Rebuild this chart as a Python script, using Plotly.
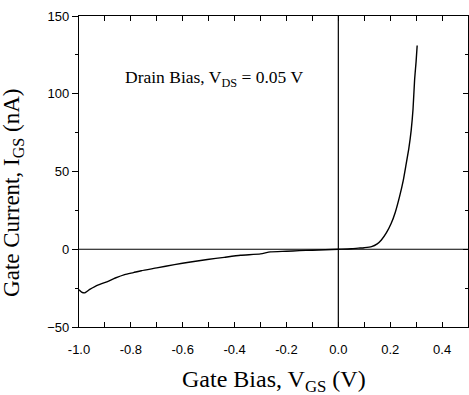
"""
Gate current vs gate bias at a fixed drain bias.
"""

import plotly.graph_objects as go

# gate bias (V) and gate current (nA)
v_gs = [-1.0, -0.99, -0.977, -0.96, -0.939, -0.91, -0.888, -0.86, -0.824,
        -0.79, -0.76, -0.7, -0.632, -0.57, -0.505, -0.44, -0.377, -0.3,
        -0.262, -0.2, -0.15, -0.1, -0.05, 0.0, 0.05, 0.077, 0.1, 0.128,
        0.15, 0.166, 0.185, 0.204, 0.22, 0.236, 0.25, 0.262, 0.272, 0.281,
        0.288, 0.294, 0.3, 0.304]
i_gs = [-26, -27.5, -28, -26, -24, -22, -20.6, -18.5, -16.3,
        -15, -13.8, -12, -9.9, -8.2, -6.6, -5.2, -3.9, -3.0,
        -1.7, -1.3, -0.9, -0.6, -0.3, 0.0, 0.3, 0.7, 1.0, 1.7,
        3.5, 6.0, 10.5, 16.7, 24, 33.8, 44, 55.3, 65, 76.6,
        90, 108.7, 121, 131]

x_ticks = [-1.0, -0.8, -0.6, -0.4, -0.2, 0.0, 0.2, 0.4]
x_labels = ['-1.0', '-0.8', '-0.6', '-0.4', '-0.2', '0.0', '0.2', '0.4']
y_ticks = [-50, 0, 50, 100, 150]

serif = 'Liberation Serif, Times New Roman'
tick_font = dict(family='Liberation Sans, Arial', size=13, color='black')

fig = go.Figure()
fig.add_trace(go.Scatter(x=v_gs, y=i_gs, mode='lines',
                         line=dict(color='black', width=1.4, shape='spline',
                                   smoothing=0.6),
                         showlegend=False, hoverinfo='skip'))
# copy on the right-hand axis so its inward ticks get drawn
fig.add_trace(go.Scatter(x=v_gs, y=i_gs, mode='lines', yaxis='y2',
                         opacity=0, showlegend=False, hoverinfo='skip'))

fig.update_layout(
    width=469, height=395,
    margin=dict(l=79, r=1, t=16, b=68),
    paper_bgcolor='white', plot_bgcolor='white',
    xaxis=dict(
        range=[-1.0, 0.5], tickvals=x_ticks, ticktext=x_labels,
        ticks='inside', ticklen=5, tickwidth=1, tickcolor='black',
        minor=dict(dtick=0.1, tick0=0, ticks='inside', ticklen=3,
                   tickcolor='black'),
        showline=True, linecolor='black', linewidth=1.3, mirror='allticks',
        showgrid=False, zeroline=False, tickfont=tick_font,
        ticklabelstandoff=10, ticklabeloverflow='allow',
    ),
    yaxis=dict(
        range=[-50, 150], tickvals=y_ticks,
        ticks='outside', ticklen=6, tickwidth=1, tickcolor='black',
        minor=dict(dtick=25, tick0=0, ticks='outside', ticklen=3,
                   tickcolor='black'),
        showline=True, linecolor='black', linewidth=1.3, mirror=True,
        showgrid=False, zeroline=False, tickfont=tick_font,
    ),
    yaxis2=dict(
        range=[-50, 150], tickvals=y_ticks, overlaying='y', side='right',
        ticks='inside', ticklen=5, tickcolor='black', showticklabels=False,
        minor=dict(dtick=25, tick0=0, ticks='inside', ticklen=3,
                   tickcolor='black'),
        showline=False, showgrid=False, zeroline=False,
    ),
    shapes=[
        # zero lines across the frame
        dict(type='line', xref='x', yref='paper', x0=0, x1=0, y0=0, y1=1,
             line=dict(color='black', width=1.2)),
        dict(type='line', xref='paper', yref='y', x0=0, x1=1, y0=0, y1=0,
             line=dict(color='black', width=1.2)),
    ],
    annotations=[
        dict(text='Drain Bias, V<sub>DS</sub> = 0.05 V', xref='x', yref='y',
             x=-0.83, y=110, xanchor='left', yanchor='middle',
             showarrow=False,
             font=dict(family=serif, size=17.5, color='black')),
        dict(text='Gate Bias, V<sub>GS</sub> (V)', xref='paper',
             yref='paper', x=0.5, y=-0.175, xanchor='center', yanchor='middle',
             showarrow=False, font=dict(family=serif, size=24, color='black')),
        dict(text='Gate Current, I<sub>GS</sub> (nA)', xref='paper',
             yref='paper', x=-0.168, y=0.43, xanchor='center',
             yanchor='middle', textangle=-90, showarrow=False,
             font=dict(family=serif, size=23, color='black')),
    ],
)

# the page's default body margin would push the figure off the window
fig.write_html("out.html", config={'displayModeBar': False},
               post_script="document.body.style.margin='0';")
